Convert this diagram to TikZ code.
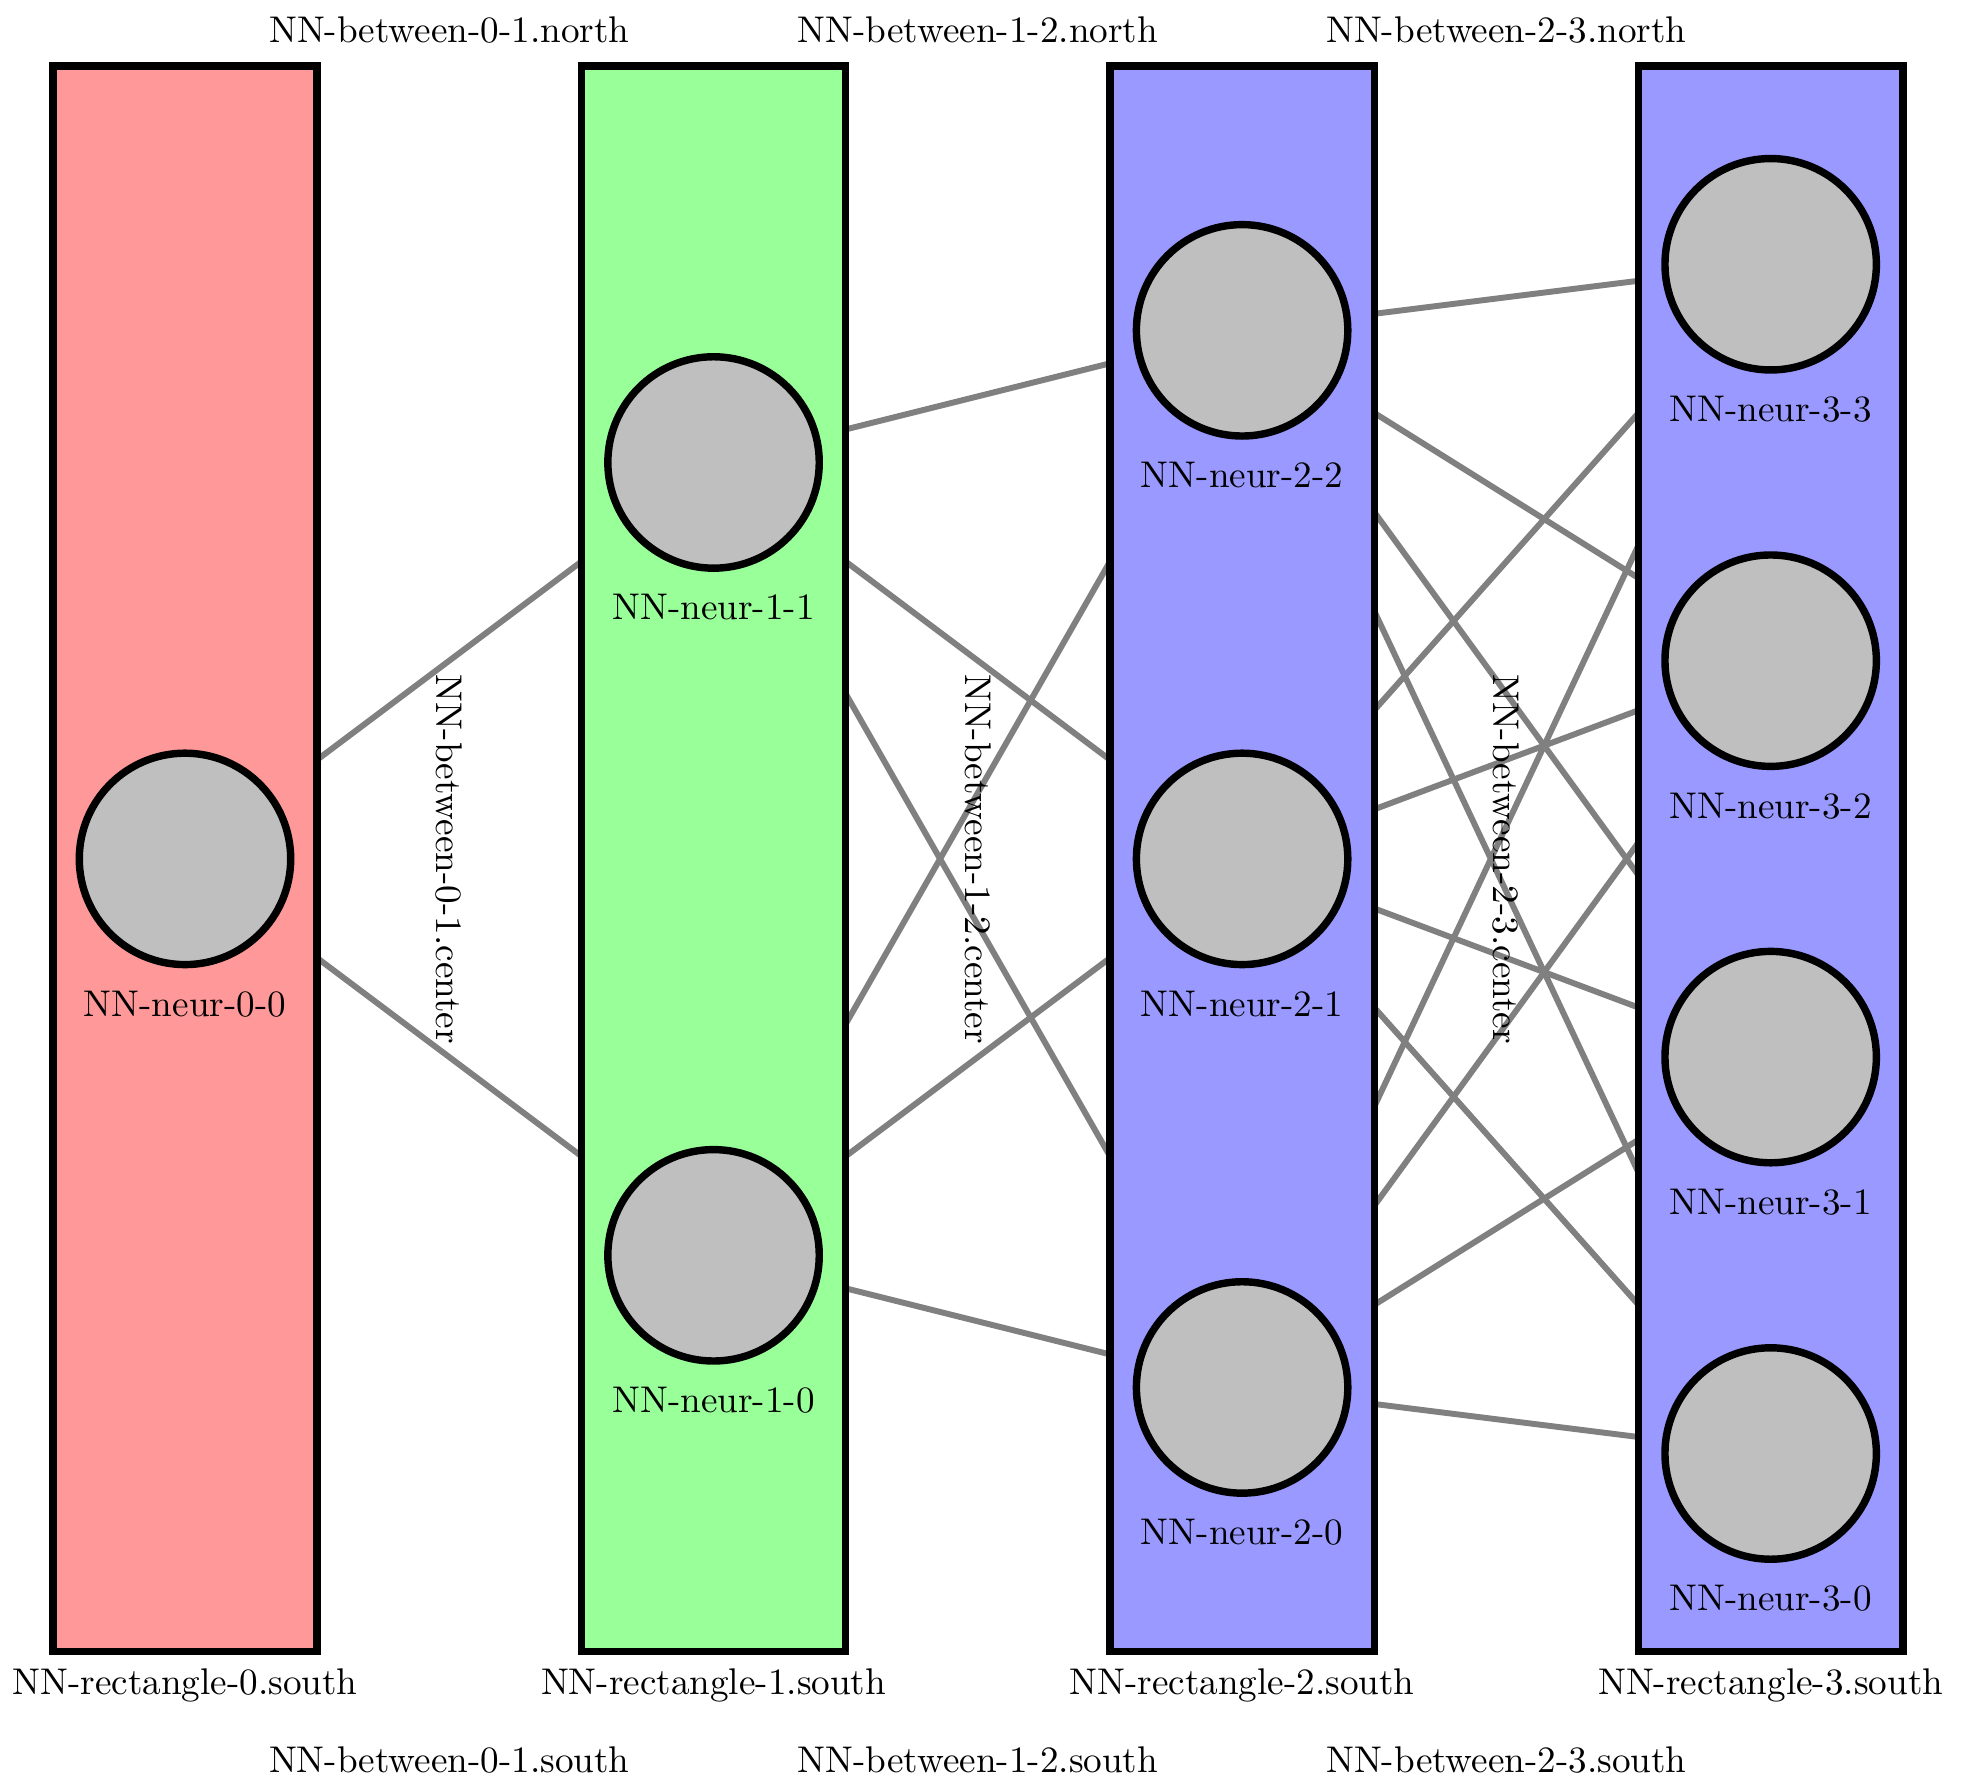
\documentclass[tikz,border=0pt]{standalone}
\pgfdeclarelayer{background}
\pgfsetlayers{background,main}
\tikzset{
  layerbox/.style={draw,line width=2pt,minimum width=2.5cm,minimum height=15cm,inner sep=0pt},
  neuron/.style={circle,draw,line width=2pt,fill=gray!50,minimum size=2cm,inner sep=0pt},
  synapse/.style={gray,line width=1.6pt},
  neurlabel/.style={label={[label distance=0.9mm]below:#1}}
}
\begin{document}
\begin{tikzpicture}
\useasboundingbox (0,-8.745) rectangle (18.56,8.125);
%
% rectangles
%
\node[layerbox,fill=red!40,label=below:NN-rectangle-0.south] (NN-rectangle-0) at (1.75,0) {};
\node[layerbox,fill=green!40,label=below:NN-rectangle-1.south] (NN-rectangle-1) at (6.75,0) {};
\node[layerbox,fill=blue!40,label=below:NN-rectangle-2.south] (NN-rectangle-2) at (11.75,0) {};
\node[layerbox,fill=blue!40,label=below:NN-rectangle-3.south] (NN-rectangle-3) at (16.75,0) {};
%
% neurons
%
\node[neuron,neurlabel=NN-neur-0-0] (NN-neur-0-0) at (1.75,0) {};
%
\node[neuron,neurlabel=NN-neur-1-0] (NN-neur-1-0) at (6.75,-3.75) {};
\node[neuron,neurlabel=NN-neur-1-1] (NN-neur-1-1) at (6.75,3.75) {};
%
\node[neuron,neurlabel=NN-neur-2-0] (NN-neur-2-0) at (11.75,-5) {};
\node[neuron,neurlabel=NN-neur-2-1] (NN-neur-2-1) at (11.75,0) {};
\node[neuron,neurlabel=NN-neur-2-2] (NN-neur-2-2) at (11.75,5) {};
%
\node[neuron,neurlabel=NN-neur-3-0] (NN-neur-3-0) at (16.75,-5.625) {};
\node[neuron,neurlabel=NN-neur-3-1] (NN-neur-3-1) at (16.75,-1.875) {};
\node[neuron,neurlabel=NN-neur-3-2] (NN-neur-3-2) at (16.75,1.875) {};
\node[neuron,neurlabel=NN-neur-3-3] (NN-neur-3-3) at (16.75,5.625) {};
%
% between labels
%
\node (NN-between-0-1-n) at (4.25,7.84) {NN-between-0-1.north};
\node[rotate=-90] (NN-between-0-1) at (4.25,0) {NN-between-0-1.center};
\node (NN-between-0-1-s) at (4.25,-8.52) {NN-between-0-1.south};
%
\node (NN-between-1-2-n) at (9.25,7.84) {NN-between-1-2.north};
\node[rotate=-90] (NN-between-1-2) at (9.25,0) {NN-between-1-2.center};
\node (NN-between-1-2-s) at (9.25,-8.52) {NN-between-1-2.south};
%
\node (NN-between-2-3-n) at (14.25,7.84) {NN-between-2-3.north};
\node[rotate=-90] (NN-between-2-3) at (14.25,0) {NN-between-2-3.center};
\node (NN-between-2-3-s) at (14.25,-8.52) {NN-between-2-3.south};
%
% connections
%
\begin{pgfonlayer}{background}
\draw[synapse] (NN-neur-0-0.center) -- (NN-neur-1-0.center);
\draw[synapse] (NN-neur-0-0.center) -- (NN-neur-1-1.center);
%
\draw[synapse] (NN-neur-1-0.center) -- (NN-neur-2-0.center);
\draw[synapse] (NN-neur-1-0.center) -- (NN-neur-2-1.center);
\draw[synapse] (NN-neur-1-0.center) -- (NN-neur-2-2.center);
\draw[synapse] (NN-neur-1-1.center) -- (NN-neur-2-0.center);
\draw[synapse] (NN-neur-1-1.center) -- (NN-neur-2-1.center);
\draw[synapse] (NN-neur-1-1.center) -- (NN-neur-2-2.center);
%
\draw[synapse] (NN-neur-2-0.center) -- (NN-neur-3-0.center);
\draw[synapse] (NN-neur-2-0.center) -- (NN-neur-3-1.center);
\draw[synapse] (NN-neur-2-0.center) -- (NN-neur-3-2.center);
\draw[synapse] (NN-neur-2-0.center) -- (NN-neur-3-3.center);
\draw[synapse] (NN-neur-2-1.center) -- (NN-neur-3-0.center);
\draw[synapse] (NN-neur-2-1.center) -- (NN-neur-3-1.center);
\draw[synapse] (NN-neur-2-1.center) -- (NN-neur-3-2.center);
\draw[synapse] (NN-neur-2-1.center) -- (NN-neur-3-3.center);
\draw[synapse] (NN-neur-2-2.center) -- (NN-neur-3-0.center);
\draw[synapse] (NN-neur-2-2.center) -- (NN-neur-3-1.center);
\draw[synapse] (NN-neur-2-2.center) -- (NN-neur-3-2.center);
\draw[synapse] (NN-neur-2-2.center) -- (NN-neur-3-3.center);
\end{pgfonlayer}
\end{tikzpicture}
\end{document}
